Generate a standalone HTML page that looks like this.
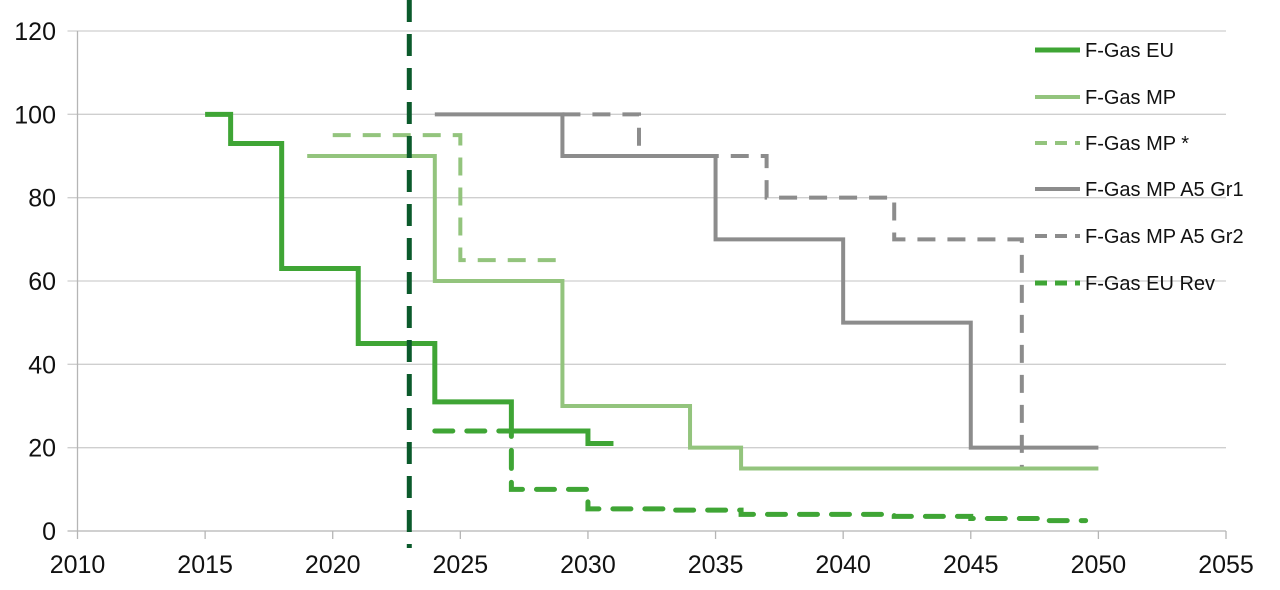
<!DOCTYPE html>
<html><head><meta charset="utf-8"><style>
body{margin:0;background:#fff;width:1280px;height:585px;overflow:hidden}
svg text{font-family:"Liberation Sans",Arial,sans-serif;fill:#111}
</style></head><body>
<svg id="chart" width="1280" height="585" xmlns="http://www.w3.org/2000/svg"></svg>
<script>
const xTicks=[2010,2015,2020,2025,2030,2035,2040,2045,2050,2055];
const yTicks=[0,20,40,60,80,100,120];
const seriesNames=["F-Gas EU","F-Gas MP","F-Gas MP *","F-Gas MP A5 Gr1","F-Gas MP A5 Gr2","F-Gas EU Rev"];
const euYears=[2015,2016,2018,2021,2024,2027,2030,2031];
const euVals=[100,93,63,45,31,24,21,21];
const mpYears=[2019,2024,2029,2034,2036,2050];
const mpVals=[90,60,30,20,15,15];
const mpStarYears=[2020,2025,2029];
const mpStarVals=[95,65,65];
const gr1Years=[2024,2029,2035,2040,2045,2050];
const gr1Vals=[100,90,70,50,20,20];
const gr2Years=[2029,2032,2037,2042,2047,2050];
const gr2Vals=[100,90,80,70,15,15];
const revYears=[2024,2027,2030,2033,2036,2042,2045,2048,2049.5];
const revVals=[24,10,5.3,5,4,3.5,3,2.5,2.5];
const markerYear=2023;

const X0=77.5,X1=1226,Y0=531,Y1=31;
const xs=v=>X0+(v-2010)/(2055-2010)*(X1-X0);
const ys=v=>Y0-(v/120)*(Y0-Y1);
const svg=document.getElementById('chart');
const NS='http://www.w3.org/2000/svg';
function mk(t,a){const e=document.createElementNS(NS,t);for(const k in a)e.setAttribute(k,a[k]);svg.appendChild(e);return e;}

yTicks.forEach(v=>{
  const l=mk('line',{x1:X0-10,x2:X1,y1:ys(v),y2:ys(v),stroke:v===0?'#b5b5b5':'#cfcfcf','stroke-width':1.3});
  
  
  const t=mk('text',{x:56,y:ys(v)+9,'text-anchor':'end','font-size':25});
  t.textContent=v;
  
  
});
const ax=mk('line',{x1:X0,x2:X0,y1:Y1,y2:Y0,stroke:'#b5b5b5','stroke-width':1.3});


xTicks.forEach(v=>{
  const l=mk('line',{x1:xs(v),x2:xs(v),y1:Y0,y2:Y0+8,stroke:'#b5b5b5','stroke-width':1.3});
  
  
  const t=mk('text',{x:xs(v),y:573,'text-anchor':'middle','font-size':25});
  t.textContent=v;
  
  
});

function step(years,vals,style,name){
  let d='M'+xs(years[0])+' '+ys(vals[0]);
  for(let i=1;i<years.length;i++){d+=' H'+xs(years[i])+' V'+ys(vals[i]);}
  const p=mk('path',Object.assign({d:d,fill:'none','stroke-linejoin':'miter'},style));
  
  
}
const cEU='#3fa535',cMP='#93c47d',cG='#8c8c8c',cD='#0b5a2b';
step(gr1Years,gr1Vals,{stroke:cG,'stroke-width':4},'series-fgas-mp-a5-gr1');
step(gr2Years,gr2Vals,{stroke:cG,'stroke-width':4,'stroke-dasharray':'18 12'},'series-fgas-mp-a5-gr2');
step(mpYears,mpVals,{stroke:cMP,'stroke-width':4},'series-fgas-mp');
step(mpStarYears,mpStarVals,{stroke:cMP,'stroke-width':4,'stroke-dasharray':'18 12'},'series-fgas-mp-star');
step(euYears,euVals,{stroke:cEU,'stroke-width':5},'series-fgas-eu');
step(revYears,revVals,{stroke:cEU,'stroke-width':5,'stroke-dasharray':'18 14','stroke-linecap':'round'},'series-fgas-eu-rev');
const m=mk('line',{x1:xs(markerYear),x2:xs(markerYear),y1:0,y2:548,stroke:cD,'stroke-width':5,'stroke-dasharray':'22 12'});



const legStyles=[{stroke:cEU,'stroke-width':5},{stroke:cMP,'stroke-width':4},{stroke:cMP,'stroke-width':4,'stroke-dasharray':'12 8'},{stroke:cG,'stroke-width':4},{stroke:cG,'stroke-width':4,'stroke-dasharray':'12 8'},{stroke:cEU,'stroke-width':5,'stroke-dasharray':'12 8'}];
const legY=[50,97,143,189,236,283];
seriesNames.forEach((n,i)=>{
  const l=mk('line',Object.assign({x1:1035,x2:1080,y1:legY[i],y2:legY[i]},legStyles[i]));
  
  
  const t=mk('text',{x:1085,y:legY[i]+7,'font-size':20});
  t.textContent=n;
  
  
});
</script>
</body></html>
